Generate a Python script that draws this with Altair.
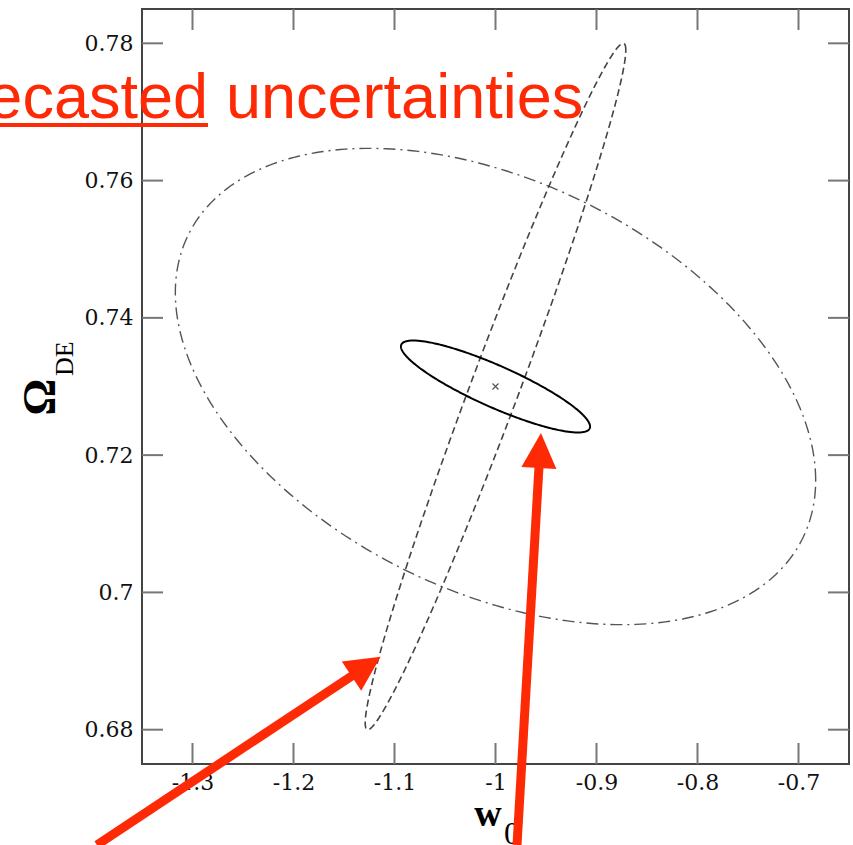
import math
import numpy as np
import pandas as pd
import altair as alt

# ---------------- data ----------------
x_ticks = [-1.3, -1.2, -1.1, -1.0, -0.9, -0.8, -0.7]
y_ticks = [0.68, 0.70, 0.72, 0.74, 0.76, 0.78]
x_domain = [-1.35, -0.65]
y_domain = [0.675, 0.785]

# forecast ellipses: centre, 1-sigma widths and correlation
ell_names = ["combined", "probe A", "probe B"]
ell_cx = [-1.0, -1.0, -1.0]
ell_cy = [0.73, 0.73, 0.73]
ell_sx = [0.0936, 0.129, 0.317]
ell_sy = [0.0067, 0.050, 0.0347]
ell_rho = [-0.87, 0.98, -0.394]

# fiducial model
fid_x = [-1.0]
fid_y = [0.73]

# red annotation arrows (data coordinates): start and tip
arrow_x0 = [-1.3946, -0.9787]
arrow_y0 = [0.6632, 0.6632]
arrow_x1 = [-1.1137, -0.9550]
arrow_y1 = [0.69063, 0.72322]

title_words = ["Forecasted", "uncertainties"]

# ---------------- layout ----------------
W, H = 707, 755
PX_X = W / (x_domain[1] - x_domain[0])
PX_Y = H / (y_domain[1] - y_domain[0])
RED = "#fe2a05"
TICK = 21

xs = alt.Scale(domain=x_domain, nice=False, zero=False)
ys = alt.Scale(domain=y_domain, nice=False, zero=False)
xax = alt.Axis(values=x_ticks, labelExpr="toString(datum.value)", ticks=False, tickSize=0,
               domain=False, grid=False, labelFont="DejaVu Serif", labelFontSize=22,
               labelColor="#111", labelPadding=8, title="")
yax = alt.Axis(values=y_ticks, labelExpr="toString(datum.value)", ticks=False, tickSize=0,
               domain=False, grid=False, labelFont="DejaVu Serif", labelFontSize=22,
               labelColor="#111", labelPadding=9, title="")


def X(f="x"):
    return alt.X(f"{f}:Q", scale=xs, axis=xax)


def Y(f="y"):
    return alt.Y(f"{f}:Q", scale=ys, axis=yax)


# ellipse outlines
def ellipse_df(k):
    t = np.linspace(0, 2 * np.pi, 361)
    r = ell_rho[k]
    x = ell_cx[k] + ell_sx[k] * np.cos(t)
    y = ell_cy[k] + ell_sy[k] * (r * np.cos(t) + math.sqrt(1 - r * r) * np.sin(t))
    return pd.DataFrame({"name": ell_names[k], "i": np.arange(len(t)), "x": x, "y": y})


def ell_layer(k, **style):
    return alt.Chart(ellipse_df(k)).mark_line(**style).encode(
        x=X(), y=Y(), order=alt.Order("i:Q"))


solid = ell_layer(0, color="#000", strokeWidth=2)
dashed = ell_layer(1, color="#444", strokeWidth=1.6, strokeDash=[7, 4])
dashdot = ell_layer(2, color="#555", strokeWidth=1.4, strokeDash=[12, 5, 2, 5])

fid = alt.Chart(pd.DataFrame({"x": fid_x, "y": fid_y})).mark_point(
    shape="M-1,-1L1,1M-1,1L1,-1", filled=False, size=36, strokeWidth=1.2, color="#555", opacity=1
).encode(x=X(), y=Y())

# inward ticks on all four sides
xt = pd.DataFrame({"x": x_ticks})
yt = pd.DataFrame({"y": y_ticks})
tick_style = dict(color="#777", strokeWidth=2)
t_bottom = alt.Chart(xt).mark_rule(**tick_style).encode(x=X(), y=alt.value(H), y2=alt.value(H - TICK))
t_top = alt.Chart(xt).mark_rule(**tick_style).encode(x=X(), y=alt.value(0), y2=alt.value(TICK))
t_left = alt.Chart(yt).mark_rule(**tick_style).encode(y=Y(), x=alt.value(0), x2=alt.value(TICK))
t_right = alt.Chart(yt).mark_rule(**tick_style).encode(y=Y(), x=alt.value(W - TICK), x2=alt.value(W))

# arrows
rows = []
for x0, y0, x1, y1 in zip(arrow_x0, arrow_y0, arrow_x1, arrow_y1):
    dxp = (x1 - x0) * PX_X
    dyp = (y1 - y0) * PX_Y
    L = math.hypot(dxp, dyp)
    back = 22.0
    xe = x1 - dxp / L * back / PX_X
    ye = y1 - dyp / L * back / PX_Y
    ang = math.degrees(math.atan2(dxp, dyp)) % 360
    rows.append({"x": x0, "y": y0, "x2": xe, "y2": ye, "tx": x1, "ty": y1, "ang": ang})
arr = pd.DataFrame(rows)

shaft = alt.Chart(arr).mark_rule(color=RED, strokeWidth=9, strokeCap="butt").encode(
    x=X(), y=Y(), x2=alt.X2("x2:Q"), y2=alt.Y2("y2:Q"))
head = alt.Chart(arr).mark_point(shape="M0,0L-1,2L1,2Z", filled=True, size=1225,
                                 color=RED, opacity=1, strokeWidth=0).encode(
    x=alt.X("tx:Q", scale=xs, axis=xax), y=alt.Y("ty:Q", scale=ys, axis=yax),
    angle=alt.Angle("ang:Q", scale=None))

# red title (partly cut off at the left edge, as in the reference)
t1 = alt.Chart(alt.Data(values=[{"t": title_words[0]}])).mark_text(
    font="Liberation Sans", fontSize=63, color=RED, align="right", baseline="alphabetic"
).encode(text="t:N", x=alt.value(66), y=alt.value(109))
t2 = alt.Chart(alt.Data(values=[{"t": title_words[1]}])).mark_text(
    font="Liberation Sans", fontSize=63, color=RED, align="left", baseline="alphabetic"
).encode(text="t:N", x=alt.value(84), y=alt.value(109))
uline = alt.Chart(alt.Data(values=[{"t": 1}])).mark_rule(color=RED, strokeWidth=4).encode(
    x=alt.value(-170), x2=alt.value(66), y=alt.value(116))

# axis titles with subscripts
om = alt.Chart(alt.Data(values=[{"t": "Ω"}])).mark_text(
    font="Liberation Serif", fontSize=46, fontWeight="bold", color="#000", angle=270,
    align="center", baseline="alphabetic").encode(text="t:N", x=alt.value(55 - 142), y=alt.value(397 - 9))
de = alt.Chart(alt.Data(values=[{"t": "DE"}])).mark_text(
    font="Liberation Serif", fontSize=26, color="#000", angle=270,
    align="left", baseline="alphabetic").encode(text="t:N", x=alt.value(73 - 142), y=alt.value(376 - 9))
ww = alt.Chart(alt.Data(values=[{"t": "w"}])).mark_text(
    font="Liberation Serif", fontSize=38, fontWeight="bold", color="#000",
    align="center", baseline="alphabetic").encode(text="t:N", x=alt.value(488 - 142), y=alt.value(826 - 9))
w0 = alt.Chart(alt.Data(values=[{"t": "0"}])).mark_text(
    font="Liberation Serif", fontSize=32, color="#000",
    align="left", baseline="alphabetic").encode(text="t:N", x=alt.value(504 - 142), y=alt.value(844 - 9))

chart = alt.layer(
    t_bottom, t_top, t_left, t_right, dashdot, dashed, solid, fid,
    t1, t2, uline, om, de, ww, w0, shaft, head
).properties(
    width=W, height=H,
    autosize=alt.AutoSizeParams(type="none"),
    padding={"left": 142, "top": 9, "right": 4, "bottom": 81},
).configure_view(stroke="#444", strokeWidth=2)

chart.save("out.html", embed_options={"renderer": "svg", "actions": False})
